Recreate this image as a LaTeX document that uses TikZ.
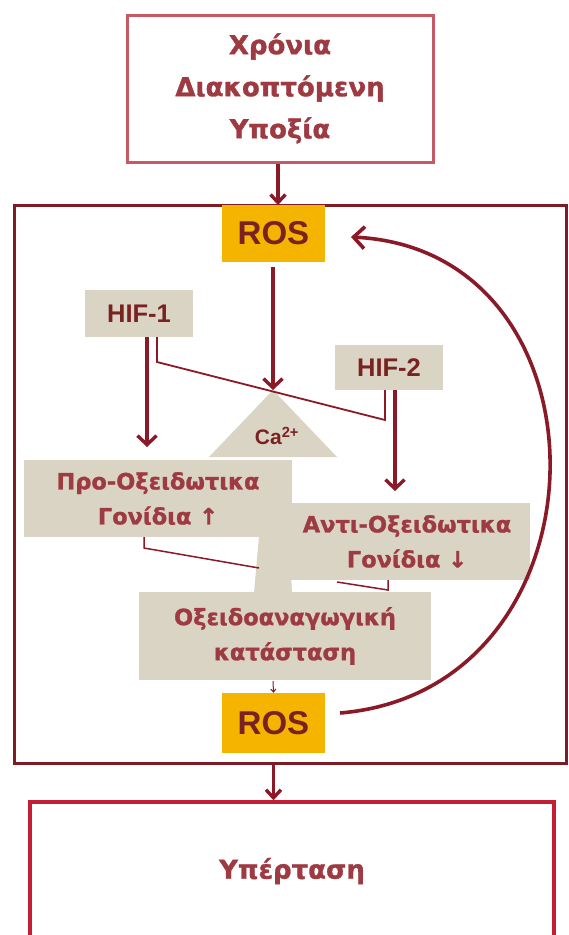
\documentclass[tikz,border=0pt]{standalone}
\usepackage{fontspec}
\usetikzlibrary{arrows.meta}
\newfontfamily\grf{DejaVu Sans}[BoldFeatures={FakeBold=1.2}]
\newfontfamily\arf{Liberation Sans}
\definecolor{maroon}{HTML}{7E1C26}
\definecolor{arrowred}{HTML}{8A1A28}
\definecolor{txtred}{HTML}{9E3A42}
\definecolor{darktxt}{HTML}{7A2222}
\definecolor{pinkred}{HTML}{C65A64}
\definecolor{brightred}{HTML}{C41E34}
\definecolor{beige}{HTML}{D9D4C4}
\definecolor{rosyellow}{HTML}{F5B400}
\tikzset{
  outerbox/.style={draw=pinkred,line width=3pt,fill=white,inner sep=0pt,align=center,text=txtred,font=\grf\bfseries\fontsize{26}{42}\selectfont},
  rosbox/.style={fill=rosyellow,inner sep=0pt,minimum width=103pt,text=darktxt,font=\arf\bfseries\fontsize{33}{34}\selectfont},
  hifbox/.style={fill=beige,inner sep=0pt,minimum width=108pt,text=darktxt,font=\arf\bfseries\fontsize{25.5}{27}\selectfont},
  genebox/.style={fill=beige,inner sep=0pt,align=center,text=txtred,font=\grf\bfseries\fontsize{22.5}{35}\selectfont},
  thickarr/.style={draw=arrowred,line width=3.4pt,-{Straight Barb[length=9pt,width=19pt]}},
  thinline/.style={draw=arrowred,line width=1.8pt},
}
\begin{document}
\begin{tikzpicture}[x=1pt,y=-1pt]
\useasboundingbox (0,0) rectangle (568,935);
\fill[white] (0,0) rectangle (568,935);
% outer frame
\node[draw=maroon,line width=3pt,minimum width=552pt,minimum height=558pt,inner sep=0pt] (frame) at (290,484) {};
% top box
\node[outerbox,minimum width=306pt,minimum height=147pt] (top) at (280,88.5) {Χρόνια\\Διακοπτόμενη\\Υποξία};
% bottom box
\node[draw=brightred,line width=3.5pt,fill=white,minimum width=524pt,minimum height=150pt,inner sep=0pt] (hyp) at (292,877) {};
\node[text=txtred,font=\grf\bfseries\fontsize{26}{28}\selectfont] (hyptxt) at (292,871) {Υπέρταση};
% ROS boxes
\node[rosbox,minimum height=57pt] (rosT) at (273.5,233.5) {ROS};
\node[rosbox,minimum height=60pt] (rosB) at (273.5,723) {ROS};
% HIF boxes
\node[hifbox,minimum height=47pt] (hif1) at (139,313.5) {HIF-1};
\node[hifbox,minimum height=45pt] (hif2) at (389,367.5) {HIF-2};
% Ca triangle
\coordinate (caTop) at (273,390);
\fill[beige] (caTop) -- (337,457) -- (209,457) -- cycle;
\node[text=darktxt,font=\arf\bfseries\fontsize{21}{24}\selectfont] (ca) at (277,436) {Ca\textsuperscript{2+}};
% gene boxes
\node[genebox,minimum width=246pt,minimum height=77pt] (anti) at (407,541.5) {Αντι-Οξειδωτικα\\Γονίδια ↓};
\node[genebox,minimum width=268pt,minimum height=77pt] (pro) at (158,498.5) {Προ-Οξειδωτικα\\Γονίδια ↑};
\fill[beige] (259,536) -- (289,536) -- (292,593) -- (254,593) -- cycle;
\node[genebox,minimum width=292pt,minimum height=88pt] (ox) at (285,636) {Οξειδοαναγωγική\\κατάσταση};
% connectors
\coordinate (h1a) at (147,337);
\coordinate (proTop) at (147,447);
\draw[thickarr] (h1a) -- (proTop);
\coordinate (h1b) at (157,337);
\coordinate (h1c) at (157,362);
\coordinate (h2c) at (385,420);
\coordinate (h2b) at (385,390);
\draw[thinline] (h1b) -- (h1c) -- (h2c) -- (h2b);
\coordinate (h2a) at (395,390);
\coordinate (antiTop) at (395,491);
\draw[thickarr] (h2a) -- (antiTop);
\coordinate (rosTb) at (273,267);
\draw[thickarr] (rosTb) -- (caTop);
\coordinate (p1) at (144,537);
\coordinate (p2) at (144,548);
\coordinate (p3) at (259,568);
\draw[thinline,line width=1.5pt] (p1) -- (p2) -- (p3);
\coordinate (a1) at (388,580);
\coordinate (a2) at (388,590);
\coordinate (a3) at (337,582);
\draw[thinline,line width=1.5pt] (a1) -- (a2) -- (a3);
\coordinate (oxb) at (273,681);
\draw[draw=arrowred,line width=1pt,-{Straight Barb[length=3pt,width=5pt]}] (oxb) -- (rosB.north);
% feedback curve
\coordinate (cs) at (340,713);
\coordinate (ce) at (351,237);
\draw[draw=arrowred,line width=3.6pt,-{Straight Barb[length=11pt,width=22pt]}] (cs) .. controls (615,690) and (620,250) .. (ce);
% frame arrows
\coordinate (fin) at (278,205);
\draw[thickarr,-{Straight Barb[length=8pt,width=15pt]}] (top.south -| fin) -- (fin);
\coordinate (fout) at (273.5,765);
\draw[thickarr,-{Straight Barb[length=8pt,width=15pt]}] (fout) -- (hyp.north -| fout);
\end{tikzpicture}
\end{document}
